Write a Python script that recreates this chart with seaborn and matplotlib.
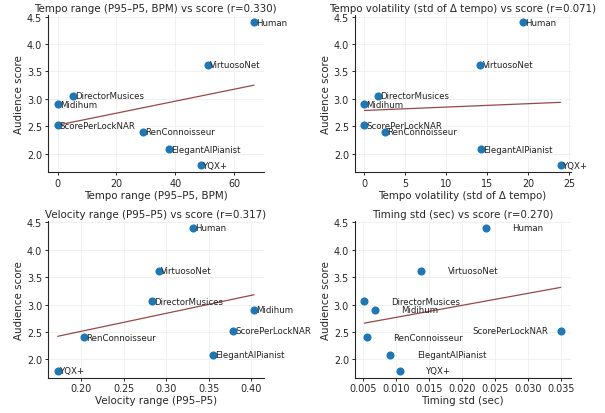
import numpy as np
import pandas as pd
import matplotlib
matplotlib.use("Agg")
import matplotlib.pyplot as plt
import seaborn as sns

models = ["Human", "VirtuosoNet", "DirectorMusices", "Midihum", "ScorePerLockNAR",
          "RenConnoisseur", "ElegantAIPianist", "YQX+"]
score = [4.40, 3.62, 3.06, 2.90, 2.52, 2.40, 2.08, 1.79]
tempo_range = [66.8, 51.1, 5.2, 0.0, 0.0, 29.1, 38.0, 48.9]
tempo_volatility = [19.34, 14.17, 1.71, 0.0, 0.0, 2.52, 14.29, 23.98]
velocity_range = [0.331, 0.2914, 0.2835, 0.4031, 0.3784, 0.2039, 0.3549, 0.1725]
timing_std = [0.02365, 0.01387, 0.0052, 0.00682, 0.0350, 0.00556, 0.00916, 0.01057]

features = ["Tempo range (P95–P5, BPM)", "Tempo volatility (std of Δ tempo)",
            "Velocity range (P95–P5)", "Timing std (sec)"]
r_values = [0.330, 0.071, 0.317, 0.270]

df = pd.DataFrame({
    "model": models,
    "Audience score": score,
    features[0]: tempo_range,
    features[1]: tempo_volatility,
    features[2]: velocity_range,
    features[3]: timing_std,
})

sns.set_theme(style="ticks")
plt.rcParams["font.family"] = ["DejaVu Sans"]

fig, axes = plt.subplots(2, 2, figsize=(6.05, 4.14), dpi=100)
fig.subplots_adjust(left=0.079, right=0.943, top=0.961, bottom=0.085,
                    wspace=0.42, hspace=0.31)

for i, (ax, feat, r) in enumerate(zip(axes.flat, features, r_values)):
    ax.grid(True, color="#eeeeee", linewidth=0.6)
    ax.set_axisbelow(True)
    sns.regplot(data=df, x=feat, y="Audience score", ax=ax, scatter=False, ci=None,
                truncate=True, line_kws=dict(color="#8b3535", linewidth=0.9, alpha=0.9))
    sns.scatterplot(data=df, x=feat, y="Audience score", ax=ax, s=34,
                    color="#1f77b4", linewidth=0, zorder=3)
    for _, row in df.iterrows():
        x, y = row[feat], row["Audience score"]
        if i == 3:
            if row["model"] == "ScorePerLockNAR":
                ax.text(x - 0.0019, y, row["model"], fontsize=6.2, ha="right",
                        va="center", color="#222222")
            else:
                ax.text(x + 0.004, y, row["model"], fontsize=6.2, ha="left",
                        va="center", color="#222222")
        else:
            ax.annotate(row["model"], (x, y), xytext=(1.5, 0), textcoords="offset points",
                        fontsize=6.2, ha="left", va="center", color="#222222",
                        annotation_clip=False)
    ax.set_title(f"{feat} vs score (r={r:.3f})", fontsize=7.4, pad=3)
    ax.set_xlabel(feat, fontsize=7.4, labelpad=1.5)
    ax.set_ylabel("Audience score", fontsize=7.4, labelpad=2)
    ax.tick_params(labelsize=6.9, length=2.5, width=0.7, pad=1.5)
    ax.set_yticks([2.0, 2.5, 3.0, 3.5, 4.0, 4.5])
    for sp in ["left", "bottom"]:
        ax.spines[sp].set_linewidth(0.8)
    sns.despine(ax=ax)

fig.savefig("out.png", dpi=100)
